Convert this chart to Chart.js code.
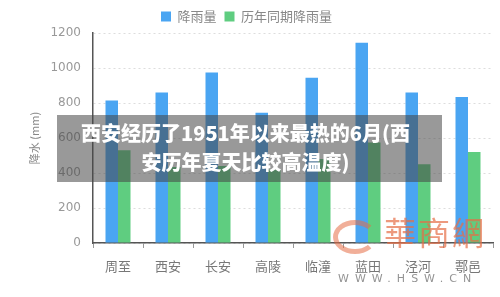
<!DOCTYPE html>
<html>
<head>
<meta charset="utf-8">
<script src="https://cdn.jsdelivr.net/npm/chart.js@4/dist/chart.umd.min.js"></script>
<style>
  html, body { margin: 0; padding: 0; background: #fff; }
  #wrap { position: relative; width: 500px; height: 297px; overflow: hidden; }
  #chart { position: absolute; left: 0; top: 0; }
  .banner {
    position: absolute; left: 57px; top: 115px; width: 385px; height: 67px;
    background: rgba(70, 70, 70, 0.55);
    color: #fff; font: 900 20px "Noto Sans CJK SC", sans-serif;
    text-align: center; line-height: 29px; padding-top: 3px; padding-right: 8px; box-sizing: border-box;
    white-space: nowrap;
  }
  .mark {
    position: absolute; left: 384px; top: 208px; white-space: nowrap;
    font: 32px "Noto Sans CJK TC", serif; color: rgba(230, 110, 70, 0.7);
    letter-spacing: 2px;
  }
  .logo {
    position: absolute; left: 333px; top: 220px; width: 44px; height: 34px;
    border-radius: 50%; border: 5px solid rgba(230, 110, 70, 0.55);
    border-right-color: transparent; box-sizing: border-box;
  }
  .url {
    position: absolute; left: 338px; top: 272px; white-space: nowrap;
    font: 11px "DejaVu Sans", sans-serif; color: rgba(120, 120, 120, 0.8);
    letter-spacing: 6px;
  }
</style>
</head>
<body>
<div id="wrap">
  <canvas id="chart" width="500" height="297"></canvas>
  <div class="logo"></div>
  <div class="mark">華商網</div>
  <div class="url">WWW.HSW.CN</div>
  <div class="banner">西安经历了1951年以来最热的6月(西<br>安历年夏天比较高温度)</div>
</div>
<script>
const districts = ['周至', '西安', '长安', '高陵', '临潼', '蓝田', '泾河', '鄠邑'];
const rainfall = [815, 860, 975, 745, 945, 1145, 860, 835];
const rainfallAvg = [530, 435, 440, 420, 480, 575, 450, 520];
const yTicks = [0, 200, 400, 600, 800, 1000, 1200];

const ctx = document.getElementById('chart').getContext('2d');

new Chart(ctx, {
    type: 'bar',
    data: {
        labels: districts,
        datasets: [{
            label: '降雨量',
            data: rainfall,
            backgroundColor: '#4aa5f2'
        }, {
            label: '历年同期降雨量',
            data: rainfallAvg,
            backgroundColor: '#5fcd80'
        }]
    },
    options: {
        responsive: false,
        animation: false,
        layout: { padding: { left: 0, right: 7, top: 2, bottom: 0 } },
        datasets: {
            bar: { categoryPercentage: 0.5, barPercentage: 1.0 }
        },
        plugins: {
            legend: {
                labels: {
                    boxWidth: 10, boxHeight: 10, padding: 8,
                    color: '#888',
                    font: { family: 'Noto Sans CJK SC', size: 13 }
                }
            },
            tooltip: { enabled: false }
        },
        scales: {
            x: {
                afterFit: s => { s.height = 54; },
                grid: { drawOnChartArea: false, tickLength: 5, color: '#999', offset: true },
                border: { color: '#555', width: 1.5 },
                ticks: { color: '#777', padding: 10, font: { family: 'Noto Sans CJK SC', size: 13 } }
            },
            y: {
                min: 0,
                max: 1200,
                afterFit: s => { s.width = 93; },
                afterBuildTicks: s => { s.ticks = yTicks.map(v => ({ value: v })); },
                grid: { color: '#ddd', drawTicks: false, lineWidth: 1 },
                border: { color: '#555', width: 1.5, dash: [2, 3] },
                ticks: {
                    color: '#999', padding: 12,
                    font: { family: 'DejaVu Sans', size: 12 },
                    callback: v => String(v)
                },
                title: {
                    display: true, text: '降水 (mm)', color: '#888',
                    font: { family: 'Noto Sans CJK SC', size: 11 }, padding: { top: 28, bottom: 0 }
                }
            }
        }
    }
});
</script>
</body>
</html>
